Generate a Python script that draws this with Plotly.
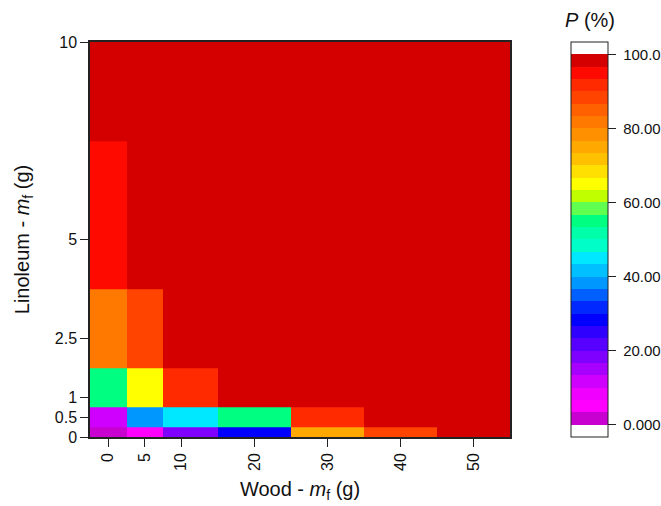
import plotly.graph_objects as go

# Data
wood = [0, 5, 10, 20, 30, 40, 50]          # x categories (g)
linoleum = [0, 0.5, 1, 2.5, 5, 10]         # y categories (g)
P = [
    [1.5, 5.0, 18.0, 28.0, 75.0, 88.0, 99.5],     # linoleum 0
    [12.0, 38.5, 45.0, 55.0, 91.5, 99.5, 99.5],   # 0.5
    [55.0, 65.0, 91.5, 99.5, 99.5, 99.5, 99.5],   # 1
    [81.5, 88.0, 99.5, 99.5, 99.5, 99.5, 99.5],   # 2.5
    [95.0, 99.5, 99.5, 99.5, 99.5, 99.5, 99.5],   # 5
    [99.5, 99.5, 99.5, 99.5, 99.5, 99.5, 99.5],   # 10
]
cbar_ticks = [0, 20, 40, 60, 80, 100]
cbar_ticktext = ["0.000", "20.00", "40.00", "60.00", "80.00", "100.0"]
x_ticks = [0, 5, 10, 20, 30, 40, 50]
y_ticks = [0, 0.5, 1, 2.5, 5, 10]
y_ticktext = ["0", "0.5", "1", "2.5", "5", "10"]

band_colors = [
    "#c800d0", "#ff00ff", "#f000ff", "#d000ff", "#a800ff", "#8000ff",
    "#5800ff", "#3000ff", "#0000ff", "#0028ff", "#0060ff", "#0098ff",
    "#00c0ff", "#00e8ff", "#00ffc8", "#00ffa8", "#00ff80", "#60ff50",
    "#c0ff00", "#ffff00", "#ffe000", "#ffc000", "#ffa800", "#ff9000",
    "#ff7800", "#ff6000", "#ff4400", "#ff2a00", "#ff0a00", "#d40000",
]
step = 100.0 / len(band_colors)
zmin, zmax = -step, 100 + step
allc = ["#ffffff"] + band_colors + ["#ffffff"]
n = len(allc)
cs = []
for i, c in enumerate(allc):
    cs.append([i / n, c])
    cs.append([(i + 1) / n, c])

FONT = "Liberation Sans, Arial, sans-serif"
L, R, T, B = 90, 151, 42, 69
PW = 661 - L - R
PH = 506 - T - B

fig = go.Figure(go.Heatmap(
    x=wood, y=linoleum, z=P,
    zmin=zmin, zmax=zmax, colorscale=cs,
    colorbar=dict(
        tickvals=cbar_ticks, ticktext=[" " + t for t in cbar_ticktext],
        ticks="outside", ticklen=8, tickcolor="#222",
        tickfont=dict(size=15, family=FONT, color="#111"),
        outlinewidth=1, outlinecolor="#222",
        thickness=37, thicknessmode="pixels",
        len=1.0, lenmode="fraction",
        x=(571 - L) / PW, xanchor="left",
        y=1.0, yanchor="top",
        xpad=0, ypad=0,
    ),
))

fig.add_annotation(
    text="<i>P</i> (%)", xref="paper", yref="paper",
    x=(590 - L) / PW, y=1 + (T - 20) / PH, xanchor="center", yanchor="middle",
    showarrow=False, font=dict(size=20, family=FONT, color="#111"),
)

fig.update_layout(
    width=661, height=506,
    margin=dict(l=L, r=R, t=T, b=B, autoexpand=False),
    plot_bgcolor="white", paper_bgcolor="white",
    font=dict(family=FONT, size=16, color="#111"),
    xaxis=dict(
        range=[-2.5, 55], tickvals=x_ticks, ticktext=[str(v) for v in x_ticks],
        tickangle=-90, ticks="outside", ticklen=8, tickcolor="#222",
        showline=True, linecolor="#222", linewidth=1.5, mirror=True,
        showgrid=False, zeroline=False,
        title=dict(text="Wood - <i>m</i><sub>f</sub> (g)", font=dict(size=20), standoff=12),
        tickfont=dict(size=16),
    ),
    yaxis=dict(
        range=[0, 10], tickvals=y_ticks, ticktext=y_ticktext,
        ticks="outside", ticklen=8, tickcolor="#222",
        showline=True, linecolor="#222", linewidth=1.5, mirror=True,
        showgrid=False, zeroline=False,
        title=dict(text="Linoleum - <i>m</i><sub>f</sub> (g)", font=dict(size=20), standoff=20),
        tickfont=dict(size=16),
    ),
)

fig.write_html("out.html")
